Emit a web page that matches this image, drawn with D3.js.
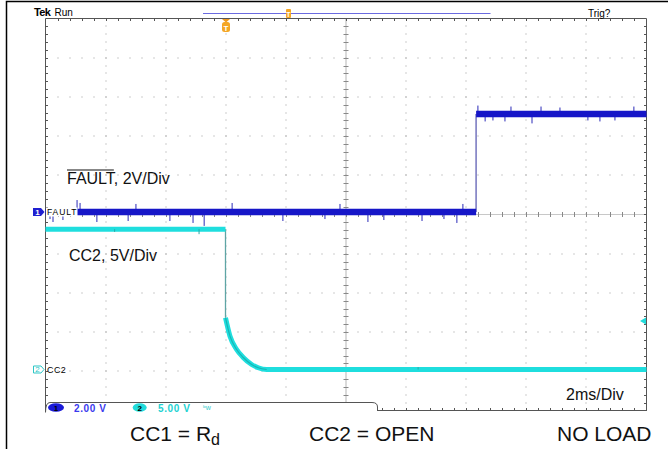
<!DOCTYPE html>
<html><head><meta charset="utf-8">
<script src="https://cdn.jsdelivr.net/npm/d3@7"></script>
<style>html,body{margin:0;padding:0;background:#fff;} svg{display:block;font-family:"Liberation Sans",Arial,Helvetica,sans-serif;}</style>
</head><body><svg id="c" width="668" height="449"></svg>
<script>
// ---- data (read from the scope capture) ----
const timeDomain = [0, 20];          // ms : 2 ms/div x 10 div
const divDomain = [-5, 5];           // vertical divisions
const ch1Settings = {voltsPerDiv: 2, offsetDiv: 0.064};
const ch2Settings = {voltsPerDiv: 5, offsetDiv: -3.954};
const faultT = [0, 14.33, 14.33, 20];
const faultV = [0, 0, 5.0, 5.0];
const cc2T = [0, 5.99, 5.99, 6.14, 6.36, 6.58, 6.86, 7.08, 7.36, 20];
const cc2V = [17.9, 17.9, 6.6, 4.25, 2.55, 1.53, 0.64, 0.22, 0, 0];
const faultSpikeT = [0.15,0.25,0.58,1.05,1.15,1.71,2.75,3.01,4.14,4.91,5.28,6.21,7.9,9.3,9.8,10.73,11.26,12.53,13.26,13.69,13.89,
                     14.39,14.63,14.89,15.29,15.49,16.19,16.49,17.12,18.05,18.45,18.95,19.58];
const faultSpikeV = [-0.36,-0.51,-0.41,0.61,0.46,-0.51,-0.46,0.41,-0.46,-0.56,-0.71,0.46,-0.46,-0.36,0.41,-0.51,-0.41,-0.46,-0.36,-0.56,0.41,
                     0.43,-0.38,-0.33,-0.38,0.38,-0.48,0.38,0.33,-0.33,-0.38,-0.33,0.38];
const cc2SpikeT = [5.11, 2.3, 12.4];
const cc2SpikeV = [-0.64, -0.35, 0.3];
const topTexts = {brand: "Tek", state: "Run", trig: "Trig?"};
const chLabels = ["FAULT", "CC2"];
const readouts = ["2.00 V", "5.00 V"];
const bottomTexts = ["CC1 = R", "d", "CC2 = OPEN", "NO LOAD"];

// ---- scales ----
const svg = d3.select("#c");
const x = d3.scaleLinear().domain(timeDomain).range([45.5, 646.5]);
const y = d3.scaleLinear().domain(divDomain).range([410.5, 18.5]);
const v1 = v => y(v / ch1Settings.voltsPerDiv + ch1Settings.offsetDiv);
const v2 = v => y(v / ch2Settings.voltsPerDiv + ch2Settings.offsetDiv);

// outer frame
svg.append("path").attr("d","M6.5,449 V1.5 H668").attr("fill","none").attr("stroke","#000").attr("stroke-width",1.5);

const g = svg.append("g");
const gridCol = "#9a9a9a";
// dotted grid rows
for (let k = -4; k <= 4; k++) {
  if (k === 0) continue;
  g.selectAll(null).data(d3.range(0.4, 19.99, 0.4)).join("rect")
    .attr("x", t => Math.round(x(t)) - 0.5).attr("y", Math.round(y(k)) - 0.5)
    .attr("width", 1).attr("height", 1).attr("fill", gridCol);
}
// dotted grid columns
for (let j = 1; j <= 9; j++) {
  if (j === 5) continue;
  g.selectAll(null).data(d3.range(-4.8, 4.99, 0.2)).join("rect")
    .attr("x", Math.round(x(2*j)) - 0.5).attr("y", d => Math.round(y(d)) - 0.5)
    .attr("width", 1).attr("height", 1).attr("fill", gridCol);
}
// center cross with ticks
g.append("line").attr("x1", x(10)).attr("x2", x(10)).attr("y1", y(5)).attr("y2", y(-5)).attr("stroke", "#b5b5b5");
g.append("line").attr("x1", x(0)).attr("x2", x(20)).attr("y1", y(0)).attr("y2", y(0)).attr("stroke", "#c8c8c8");
g.selectAll(null).data(d3.range(-4.8, 4.99, 0.2)).join("line")
  .attr("x1", x(10) - 2.5).attr("x2", x(10) + 2.5).attr("y1", d => Math.round(y(d)) + 0.5).attr("y2", d => Math.round(y(d)) + 0.5)
  .attr("stroke", "#888");
g.selectAll(null).data(d3.range(0.4, 19.99, 0.4)).join("line")
  .attr("y1", y(0) - 2.5).attr("y2", y(0) + 2.5).attr("x1", t => Math.round(x(t)) + 0.5).attr("x2", t => Math.round(x(t)) + 0.5)
  .attr("stroke", "#888");

// edges
const edge = "#555";
g.append("line").attr("x1", x(0)).attr("x2", x(20)).attr("y1", y(5)).attr("y2", y(5)).attr("stroke", edge);
g.append("line").attr("x1", x(0)).attr("x2", x(0)).attr("y1", y(5)).attr("y2", 412).attr("stroke", edge);
g.append("line").attr("x1", x(20)).attr("x2", x(20)).attr("y1", y(5)).attr("y2", y(-5) + 0.5).attr("stroke", edge);
g.append("line").attr("x1", 377).attr("x2", x(20)).attr("y1", y(-5)).attr("y2", y(-5)).attr("stroke", edge);
const minorT = d3.range(0.4, 19.99, 0.4), minorD = d3.range(-4.8, 4.99, 0.2);
g.selectAll(null).data(minorT).join("line").attr("x1", t => Math.round(x(t)) + 0.5).attr("x2", t => Math.round(x(t)) + 0.5)
  .attr("y1", y(5)).attr("y2", y(5) + 2.5).attr("stroke", edge);
g.selectAll(null).data(minorT.filter(t => x(t) > 378)).join("line").attr("x1", t => Math.round(x(t)) + 0.5).attr("x2", t => Math.round(x(t)) + 0.5)
  .attr("y1", y(-5)).attr("y2", y(-5) - 2.5).attr("stroke", edge);
g.selectAll(null).data(minorD).join("line").attr("y1", d => Math.round(y(d)) + 0.5).attr("y2", d => Math.round(y(d)) + 0.5)
  .attr("x1", x(0)).attr("x2", x(0) + 2.5).attr("stroke", edge);
g.selectAll(null).data(minorD).join("line").attr("y1", d => Math.round(y(d)) + 0.5).attr("y2", d => Math.round(y(d)) + 0.5)
  .attr("x1", x(20)).attr("x2", x(20) - 2.5).attr("stroke", edge);

// ---- traces ----
const blue = "#1616c8", cyan = "#1fdede";
const segs = (T, V, f) => T.slice(1).map((t, i) => ({x1: x(T[i]), y1: f(V[i]), x2: x(t), y2: f(V[i+1]), vert: T[i] === t}));
// CC2
const c2 = segs(cc2T, cc2V, v2);
g.selectAll(null).data(c2.filter(s => s.vert)).join("line")
  .attr("x1", s => s.x1).attr("x2", s => s.x2).attr("y1", s => s.y1).attr("y2", s => s.y2)
  .attr("stroke", "#5fa5a5").attr("stroke-width", 1.3);
const cc2Pts = cc2T.map((t, i) => [x(t), v2(cc2V[i])]);
const lineGen = d3.line();
g.append("path").attr("d", lineGen(cc2Pts.slice(0, 2))).attr("stroke", cyan).attr("stroke-width", 5).attr("fill", "none");
g.append("path").attr("d", d3.line().curve(d3.curveMonotoneX)(cc2Pts.slice(2))).attr("stroke", cyan).attr("stroke-width", 5).attr("fill", "none");
g.append("path").attr("d", d3.line().curve(d3.curveMonotoneX)(cc2Pts.slice(2, 9))).attr("stroke", "#129a9a").attr("stroke-width", 1.2).attr("fill", "none").attr("opacity", 0.6);
g.selectAll(null).data(cc2SpikeT).join("line")
  .attr("x1", t => x(t)).attr("x2", t => x(t))
  .attr("y1", t => v2(d3.scaleThreshold().domain([cc2T[1]]).range([cc2V[0], 0])(t)))
  .attr("y2", (t, i) => v2(d3.scaleThreshold().domain([cc2T[1]]).range([cc2V[0], 0])(t) + cc2SpikeV[i]))
  .attr("stroke", "#2aa8a8").attr("stroke-width", 1);

// FAULT
const f1 = segs(faultT, faultV, v1);
g.selectAll(null).data(f1.filter(s => s.vert)).join("line")
  .attr("x1", s => s.x1).attr("x2", s => s.x2).attr("y1", s => s.y1).attr("y2", s => s.y2)
  .attr("stroke", "#8a8ac8").attr("stroke-width", 1.8);
const levelAt = t => t < faultT[1] ? faultV[0] : faultV[3];
g.selectAll(null).data(faultSpikeT).join("line")
  .attr("x1", t => x(t)).attr("x2", t => x(t))
  .attr("y1", t => v1(levelAt(t))).attr("y2", (t, i) => v1(levelAt(t) + faultSpikeV[i]))
  .attr("stroke", "#2a2ab8").attr("stroke-width", 1);
g.selectAll(null).data(f1.filter(s => !s.vert)).join("line")
  .attr("x1", s => s.x1).attr("x2", s => s.x2).attr("y1", s => s.y1).attr("y2", s => s.y2)
  .attr("stroke", blue).attr("stroke-width", 6.5);

// ---- status tab (covers bottom-left of graticule) ----
svg.append("rect").attr("x", 46).attr("y", 403).attr("width", 330.5).attr("height", 14).attr("fill", "#fff");
svg.append("path").attr("d", "M45.5,412.5 Q45.5,402.5 50,402.5 H372 Q377.5,402.5 377.5,407 V411")
  .attr("fill", "none").attr("stroke", edge);
// readouts
svg.append("ellipse").attr("cx", 56).attr("cy", 407.5).attr("rx", 8).attr("ry", 4.3).attr("fill", "#1a1ad8");
svg.append("text").attr("x", 56).attr("y", 410.5).attr("text-anchor", "middle").attr("font-size", 8).attr("font-weight", "bold").attr("fill", "#000").text("1");
svg.append("text").attr("x", 74).attr("y", 411.5).attr("font-size", 10).attr("font-weight", "bold").attr("fill", "#3a3aee").attr("letter-spacing", 0.6).text(readouts[0]);
svg.append("ellipse").attr("cx", 139.7).attr("cy", 407.5).attr("rx", 7).attr("ry", 4.3).attr("fill", "#22dcdc");
svg.append("text").attr("x", 139.7).attr("y", 410.5).attr("text-anchor", "middle").attr("font-size", 8).attr("font-weight", "bold").attr("fill", "#000").text("2");
svg.append("text").attr("x", 158).attr("y", 411.5).attr("font-size", 10).attr("font-weight", "bold").attr("fill", "#22d2d2").attr("letter-spacing", 0.6).text(readouts[1]);
svg.append("text").attr("x", 203).attr("y", 410).attr("font-size", 7).attr("fill", "#33cccc").text("ᵇw");

// ---- channel markers ----
svg.append("path").attr("d", `M33,${v1(0)-4} H41 L44.5,${v1(0)} L41,${v1(0)+4} H33 Z`).attr("fill", "#2020d0");
svg.append("text").attr("x", 37.5).attr("y", v1(0) + 3).attr("text-anchor", "middle").attr("font-size", 8).attr("font-weight", "bold").attr("fill", "#fff").text("1");
svg.append("rect").attr("x", 46).attr("y", v1(0) - 4.5).attr("width", 31.5).attr("height", 9).attr("fill", "#fff");
svg.append("text").attr("x", 47).attr("y", v1(0) + 3.5).attr("font-size", 8.5).attr("letter-spacing", 0.9).attr("fill", "#000").text(chLabels[0]);
svg.append("path").attr("d", `M33.5,${v2(0)-3.5} H41 L44,${v2(0)} L41,${v2(0)+3.5} H33.5 Z`).attr("fill", "#fff").attr("stroke", "#2cc6c6");
svg.append("text").attr("x", 37.5).attr("y", v2(0) + 3).attr("text-anchor", "middle").attr("font-size", 8).attr("fill", "#2cc6c6").text("2");
svg.append("text").attr("x", 47).attr("y", v2(0) + 4).attr("font-size", 9).attr("letter-spacing", 0.4).attr("fill", "#000").text(chLabels[1]);
svg.append("path").attr("d", `M640,${v2(6.2)} L646,${v2(6.2)-3.5} L646,${v2(6.2)+3.5} Z`).attr("fill", "#22dada");

// ---- top header ----
svg.append("text").attr("x", 34).attr("y", 16).attr("font-size", 11).attr("font-weight", "bold").attr("letter-spacing", -0.6).text(topTexts.brand);
svg.append("text").attr("x", 54.5).attr("y", 16).attr("font-size", 10).text(topTexts.state);
svg.append("line").attr("x1", 203).attr("x2", 490.5).attr("y1", 13.5).attr("y2", 13.5).attr("stroke", "#6a6ae0").attr("stroke-width", 1.2);
svg.append("rect").attr("x", 286).attr("y", 9).attr("width", 5).attr("height", 9).attr("rx", 1).attr("fill", "#f4a624");
svg.append("text").attr("x", 288.5).attr("y", 17).attr("text-anchor", "middle").attr("font-size", 7).attr("font-weight", "bold").attr("fill", "#fff").text("T");
svg.append("path").attr("d", "M222,19 H230 L226,22.5 Z").attr("fill", "#f09a20");
svg.append("rect").attr("x", 222).attr("y", 22).attr("width", 8).attr("height", 10).attr("rx", 2.5).attr("fill", "#f4a624");
svg.append("text").attr("x", 226).attr("y", 30.5).attr("text-anchor", "middle").attr("font-size", 8).attr("font-weight", "bold").attr("fill", "#fff").text("T");
svg.append("text").attr("x", 588).attr("y", 17).attr("font-size", 10).text(topTexts.trig);

// ---- annotations ----
const fl = svg.append("text").attr("x", 67).attr("y", 184).attr("font-size", 16).attr("fill", "#111");
const ft = fl.append("tspan").text("FAULT");
fl.append("tspan").text(", 2V/Div");
const fw = ft.node().getComputedTextLength();
svg.append("line").attr("x1", 67).attr("x2", 67 + fw).attr("y1", 170).attr("y2", 170).attr("stroke", "#111").attr("stroke-width", 1.2);
svg.append("text").attr("x", 69).attr("y", 261).attr("font-size", 16).attr("fill", "#111").text("CC2, 5V/Div");
svg.append("text").attr("x", 566).attr("y", 400).attr("font-size", 16).attr("fill", "#111").text("2ms/Div");
const b1 = svg.append("text").attr("x", 130).attr("y", 441).attr("font-size", 21).attr("fill", "#111");
b1.append("tspan").text(bottomTexts[0]);
b1.append("tspan").attr("font-size", 16).attr("dy", 4).text(bottomTexts[1]);
svg.append("text").attr("x", 309).attr("y", 441).attr("font-size", 21).attr("fill", "#111").text(bottomTexts[2]);
svg.append("text").attr("x", 557).attr("y", 441).attr("font-size", 21).attr("fill", "#111").text(bottomTexts[3]);
</script></body></html>
